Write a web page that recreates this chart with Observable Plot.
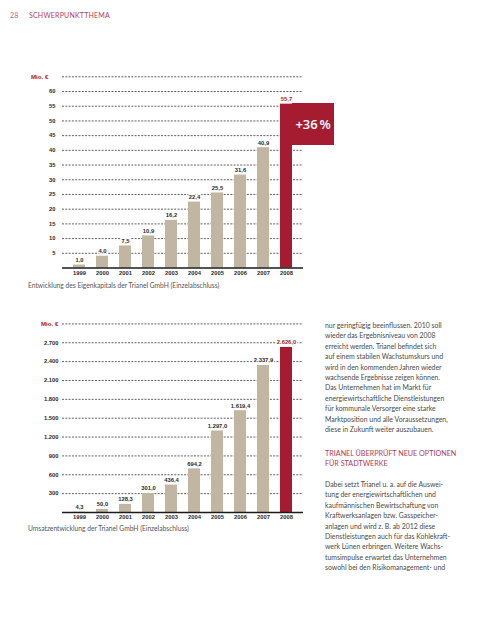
<!DOCTYPE html>
<html lang="de">
<head>
<meta charset="utf-8">
<script src="https://cdn.jsdelivr.net/npm/d3@7"></script>
<script src="https://cdn.jsdelivr.net/npm/@observablehq/plot@0.6"></script>
<style>
  html, body { margin: 0; padding: 0; background: #fff; }
  body { width: 500px; height: 621px; position: relative; overflow: hidden; font-family: Lato, "Noto Sans", sans-serif; }
  .abs { position: absolute; }
  .hdr { top: 11px; font-size: 7px; color: #b5405a; letter-spacing: 0.2px; }
  .cap { left: 28px; font-size: 6.7px; color: #555; white-space: nowrap; }
  .col { left: 325px; font-size: 6.9px; line-height: 10.4px; color: #4a4a4a; white-space: nowrap; }
  .head { color: #b03a55; font-size: 7.2px; }
  .badge { left: 292px; top: 103px; width: 42px; height: 42px; background: #a51c30; color: #fff;
           font-family: "Open Sans", Lato, sans-serif; font-weight: 600; font-size: 13px;
           display: flex; align-items: center; justify-content: center; }
</style>
</head>
<body>
<div class="abs hdr" style="left:10px;color:#b07080">28</div>
<div class="abs hdr" style="left:29px">SCHWERPUNKTTHEMA</div>
<div id="chart1" class="abs" style="left:0;top:60px"></div>
<div id="badge" class="abs badge"></div>
<div id="cap1" class="abs cap" style="top:281px"></div>
<div id="chart2" class="abs" style="left:0;top:305px"></div>
<div id="cap2" class="abs cap" style="top:524px"></div>
<div class="abs col" style="top:320px" id="p1"></div>
<div class="abs col head" style="top:449px" id="h2"></div>
<div class="abs col" style="top:479px" id="p2"></div>
<script>
// ---- data ----
const years = ["1999", "2000", "2001", "2002", "2003", "2004", "2005", "2006", "2007", "2008"];
const equity = [1.0, 4.0, 7.5, 10.9, 16.2, 22.4, 25.5, 31.6, 40.9, 55.7];
const revenue = [4.3, 50.0, 128.3, 301.0, 436.4, 694.2, 1297.0, 1619.4, 2337.9, 2626.0];
const equityTicks = [5, 10, 15, 20, 25, 30, 35, 40, 45, 50, 55, 60];
const equityTop = 65;
const revenueTicks = [300, 600, 900, 1200, 1500, 1800, 2100, 2400, 2700];
const revenueTop = 3000;
const highlightYear = "2008";
const growthLabel = "+36\u202F%";
const unitLabel = "Mio. €";
const caption1 = "Entwicklung des Eigenkapitals der Trianel GmbH (Einzelabschluss)";
const caption2 = "Umsatzentwicklung der Trianel GmbH (Einzelabschluss)";
const pageNo = "28";
const para1 = [
  "nur geringfügig beeinflussen. 2010 soll",
  "wieder das Ergebnisniveau von 2008",
  "erreicht werden. Trianel befindet sich",
  "auf einem stabilen Wachstumskurs und",
  "wird in den kommenden Jahren wieder",
  "wachsende Ergebnisse zeigen können.",
  "Das Unternehmen hat im Markt für",
  "energiewirtschaftliche Dienstleistungen",
  "für kommunale Versorger eine starke",
  "Marktposition und alle Voraussetzungen,",
  "diese in Zukunft weiter auszubauen."
];
const heading2 = ["TRIANEL ÜBERPRÜFT NEUE OPTIONEN", "FÜR STADTWERKE"];
const para2 = [
  "Dabei setzt Trianel u. a. auf die Auswei-",
  "tung der energiewirtschaftlichen und",
  "kaufmännischen Bewirtschaftung von",
  "Kraftwerksanlagen bzw. Gasspeicher-",
  "anlagen und wird z. B. ab 2012 diese",
  "Dienstleistungen auch für das Kohlekraft-",
  "werk Lünen erbringen. Weitere Wachs-",
  "tumsimpulse erwartet das Unternehmen",
  "sowohl bei den Risikomanagement- und"
];

// ---- styles ----
const TAN = "#c0b6a2";
const RED = "#a51c30";
const INK = "#2a2a2a";
const de = d3.formatLocale({decimal: ",", thousands: ".", grouping: [3], currency: ["", " €"]});
const fmtVal = de.format(",.1f");
const fmtTick = de.format(",d");

function chart(values, ticks, top, opts) {
  const data = years.map((year, i) => ({year, value: values[i]}));
  return Plot.plot({
    width: 340,
    height: 225,
    marginLeft: 62,
    marginRight: 37,
    marginTop: opts.marginTop,
    marginBottom: opts.marginBottom,
    style: {fontFamily: "'Liberation Sans', Arial, sans-serif", fontSize: "5.8px", fontWeight: "bold", color: INK, background: "transparent", overflow: "visible"},
    x: {domain: years, paddingInner: 0.48, paddingOuter: 0.45, label: null},
    y: {domain: [0, top], label: null},
    marks: [
      Plot.ruleY([...ticks, top], {stroke: "#3a3a3a", strokeWidth: 0.8, strokeDasharray: "2,1.3"}),
      Plot.axisY(ticks, {tickSize: 0, tickPadding: opts.tickPadding, tickFormat: fmtTick, fill: INK, fontWeight: "bold", label: null}),
      Plot.text([unitLabel], {y: () => top, text: d => d, frameAnchor: "left", textAnchor: "end", dx: -opts.unitPad, fill: RED, fontSize: 6.2}),
      Plot.barY(data.filter(d => d.year !== highlightYear), {x: "year", y: "value", fill: TAN}),
      Plot.barY(data.filter(d => d.year === highlightYear), {x: "year", y: "value", fill: RED}),
      Plot.ruleY([0], {stroke: "#1a1a1a", strokeWidth: 1.3}),
      Plot.text(data, {x: "year", y: "value", text: d => fmtVal(d.value), dy: -5, fill: d => d.year === highlightYear ? RED : INK, stroke: "white", strokeWidth: 2.5}),
      Plot.axisX({tickSize: 0, tickPadding: 2.5, fill: INK, fontWeight: "bold", label: null})
    ]
  });
}

document.getElementById("chart1").append(chart(equity, equityTicks, equityTop, {marginTop: 16.3, marginBottom: 17.5, tickPadding: 7, unitPad: 14}));
document.getElementById("chart2").append(chart(revenue, revenueTicks, revenueTop, {marginTop: 18.4, marginBottom: 18, tickPadding: 4, unitPad: 4}));
document.getElementById("badge").textContent = growthLabel;
document.getElementById("cap1").textContent = caption1;
document.getElementById("cap2").textContent = caption2;
document.querySelector(".hdr").textContent = pageNo;
const lines = (id, arr) => { const el = document.getElementById(id); arr.forEach((t, i) => { if (i) el.append(document.createElement("br")); el.append(t); }); };
lines("p1", para1);
lines("h2", heading2);
lines("p2", para2);
</script>
</body>
</html>
